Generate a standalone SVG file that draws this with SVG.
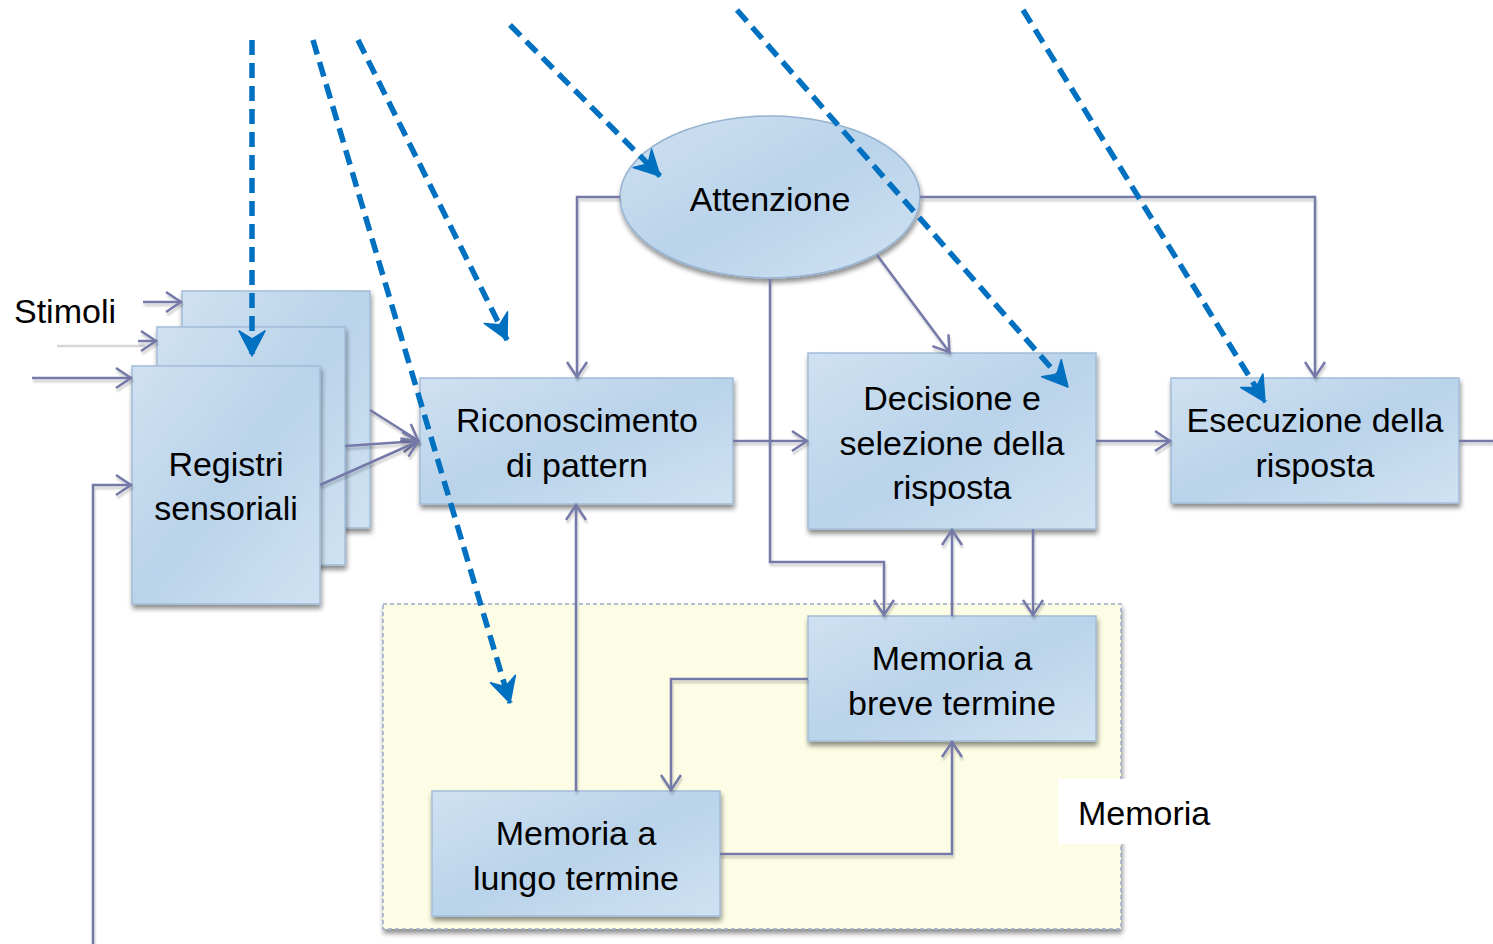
<svg xmlns="http://www.w3.org/2000/svg" width="1493" height="944" viewBox="0 0 1493 944">
<style>
.box{fill:url(#bg);stroke:#a2bcd9;stroke-width:1.5;filter:url(#sh)}
.t{font-family:"Liberation Sans",Arial,sans-serif;font-size:34px;fill:#000;text-anchor:middle}
.tl{font-family:"Liberation Sans",Arial,sans-serif;font-size:34px;fill:#000}
.c{fill:none;stroke:#7479a8;stroke-width:2.5;marker-end:url(#ah);filter:url(#lsh)}
.cn{fill:none;stroke:#7479a8;stroke-width:2.5;filter:url(#lsh)}
.d{fill:none;stroke:#0070c0;stroke-width:5.5;stroke-dasharray:15 8;marker-end:url(#bh)}
</style>
<defs>
<linearGradient id="bg" x1="0" y1="0" x2="1" y2="1">
<stop offset="0" stop-color="#d0e1f1"/>
<stop offset="0.5" stop-color="#b9d3ea"/>
<stop offset="1" stop-color="#d0e2f2"/>
</linearGradient>
<filter id="sh" x="-10%" y="-10%" width="125%" height="130%">
<feGaussianBlur in="SourceAlpha" stdDeviation="2.5"/>
<feOffset dx="1" dy="4" result="o"/>
<feComponentTransfer><feFuncA type="linear" slope="0.45"/></feComponentTransfer>
<feMerge><feMergeNode/><feMergeNode in="SourceGraphic"/></feMerge>
</filter>
<filter id="lsh" filterUnits="userSpaceOnUse" x="0" y="0" width="1493" height="944">
<feGaussianBlur in="SourceAlpha" stdDeviation="1.2"/>
<feOffset dx="1" dy="3"/>
<feComponentTransfer><feFuncA type="linear" slope="0.2"/></feComponentTransfer>
<feMerge><feMergeNode/><feMergeNode in="SourceGraphic"/></feMerge>
</filter>
<marker id="ah" markerUnits="userSpaceOnUse" markerWidth="40" markerHeight="40" viewBox="-20 -20 40 40" refX="0" refY="0" orient="auto">
<path d="M-16,-10 L-1,0 L-16,10" fill="none" stroke="#7479a8" stroke-width="2.5"/>
</marker>
<marker id="bh" markerUnits="userSpaceOnUse" markerWidth="40" markerHeight="40" viewBox="-30 -20 40 40" refX="0" refY="0" orient="auto">
<path d="M0,0 L-25,-13 L-17,0 L-25,13 Z" fill="#0070c0" stroke="#0070c0" stroke-width="1.5" stroke-linejoin="round"/>
</marker>
</defs>

<g id="memoria-area">
<rect x="383" y="604" width="738" height="325" fill="#fdfde5" stroke="#9aabc6" stroke-width="1.5" stroke-dasharray="4 3" filter="url(#sh)"/>
</g>
<g id="memoria-label">
<rect x="1058" y="779" width="140" height="65" fill="#ffffff"/>
<text class="tl" x="1078" y="825">Memoria</text>
</g>

<g id="stimoli">
<text class="tl" x="14" y="323">Stimoli</text>
</g>

<g id="registri">
<rect class="box" x="182" y="291" width="188" height="237"/>
<rect class="box" x="157" y="327" width="188" height="238"/>
<rect class="box" x="132" y="366" width="188" height="238"/>
<text class="t" x="226" y="476">Registri</text>
<text class="t" x="226" y="520">sensoriali</text>
</g>

<g id="riconoscimento">
<rect class="box" x="420" y="378" width="313" height="126"/>
<text class="t" x="577" y="432">Riconoscimento</text>
<text class="t" x="577" y="477">di pattern</text>
</g>

<g id="attenzione">
<ellipse cx="770" cy="197" rx="150" ry="81" fill="url(#bg)" stroke="#97b3d1" stroke-width="1.5" filter="url(#sh)"/>
<text class="t" x="770" y="211">Attenzione</text>
</g>

<g id="decisione">
<rect class="box" x="808" y="353" width="288" height="176"/>
<text class="t" x="952" y="410">Decisione e</text>
<text class="t" x="952" y="455">selezione della</text>
<text class="t" x="952" y="499">risposta</text>
</g>

<g id="esecuzione">
<rect class="box" x="1171" y="378" width="288" height="125"/>
<text class="t" x="1315" y="432">Esecuzione della</text>
<text class="t" x="1315" y="477">risposta</text>
</g>

<g id="memoria-breve">
<rect class="box" x="808" y="616" width="288" height="125"/>
<text class="t" x="952" y="670">Memoria a</text>
<text class="t" x="952" y="715">breve termine</text>
</g>

<g id="memoria-lungo">
<rect class="box" x="432" y="791" width="288" height="125"/>
<text class="t" x="576" y="845">Memoria a</text>
<text class="t" x="576" y="890">lungo termine</text>
</g>

<g id="connectors">
<path class="c" d="M143,302 L182,302"/>
<path d="M57,346 L145,346" stroke="#d6d6dc" stroke-width="2.5" fill="none"/>
<path class="c" d="M138,341 L157,341"/>
<path class="c" d="M32,378 L132,378"/>
<path class="c" d="M93,944 L93,485 L132,485"/>
<path class="c" d="M370,410 L419,441"/>
<path class="c" d="M345,446 L419,441"/>
<path class="c" d="M320,485 L419,441"/>
<path class="c" d="M733,441 L808,441"/>
<path class="c" d="M1096,441 L1171,441"/>
<path class="cn" d="M1459,441 L1493,441"/>
<path class="c" d="M620,197 L577,197 L577,378"/>
<path class="c" d="M920,197 L1315,197 L1315,378"/>
<path class="c" d="M877,255 L950,353"/>
<path class="c" d="M770,279 L770,562 L884,562 L884,616"/>
<path class="c" d="M952,616 L952,529"/>
<path class="c" d="M1033,529 L1033,616"/>
<path class="c" d="M808,679 L671,679 L671,791"/>
<path class="c" d="M720,854 L952,854 L952,741"/>
<path class="c" d="M576,791 L576,504"/>
</g>

<g id="dashed-arrows">
<path class="d" d="M252,40 L252,356"/>
<path class="d" d="M313,40 L510,703"/>
<path class="d" d="M358,40 L507,340"/>
<path class="d" d="M510,25 L660,176"/>
<path class="d" d="M737,10 L1068,387"/>
<path class="d" d="M1023,10 L1265,402"/>
</g>
</svg>
